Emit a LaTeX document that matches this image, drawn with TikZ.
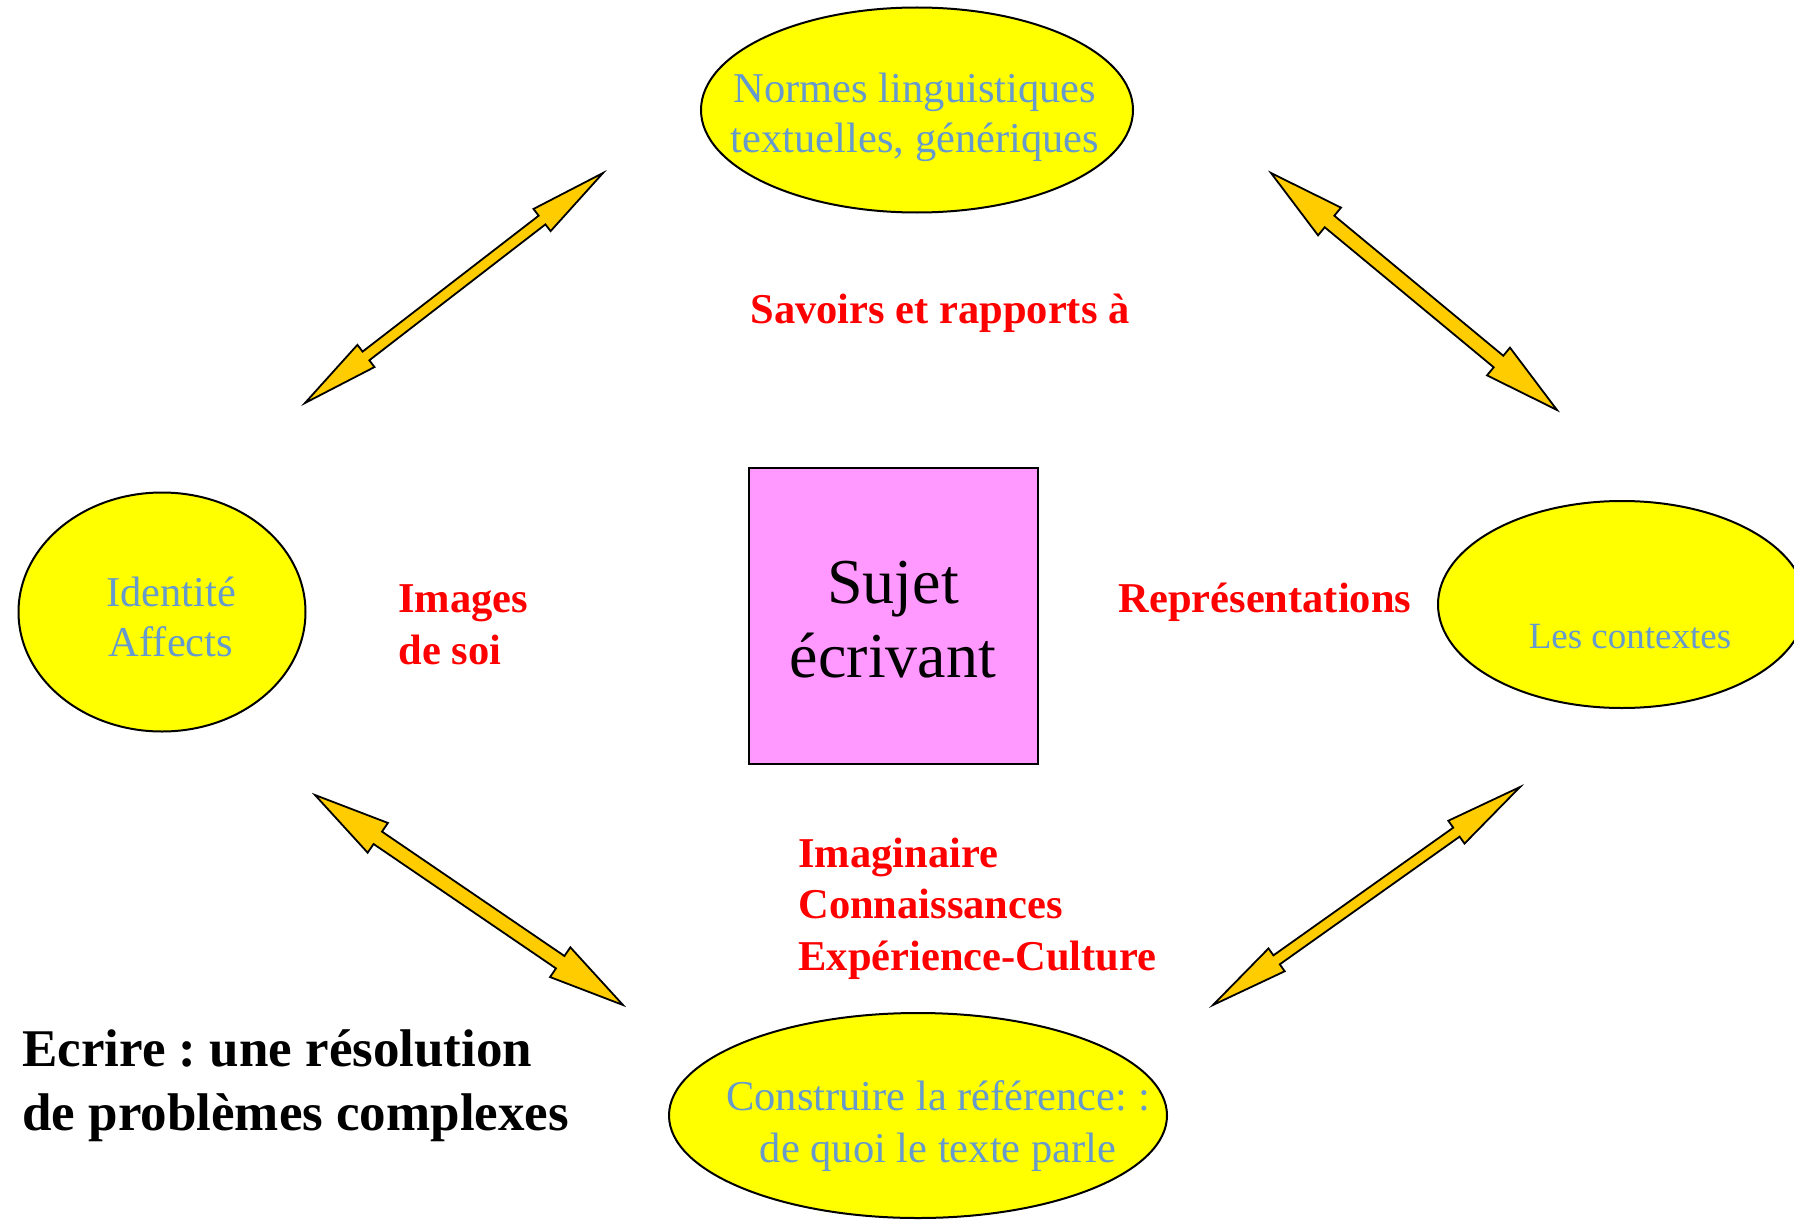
\documentclass[tikz,border=0pt]{standalone}
\usepackage{fontspec}
\setmainfont{Liberation Serif}
\usepackage{tikz}
\usetikzlibrary{shapes.geometric, calc}
\definecolor{ovalyellow}{RGB}{255,255,0}
\definecolor{boxpink}{RGB}{255,153,255}
\definecolor{labelblue}{RGB}{102,153,204}
\definecolor{arrowgold}{RGB}{255,204,0}
\frenchspacing

\tikzset{
  oval/.style={ellipse, draw=black, line width=1pt, fill=ovalyellow, inner sep=0pt},
  ovaltext/.style={text=labelblue, align=center, anchor=base, inner sep=0pt,
    font=\fontsize{21.25pt}{25pt}\selectfont},
  keyword/.style={text=red, inner sep=0pt, font=\bfseries\fontsize{21.25pt}{25.75pt}\selectfont},
  arrowbody/.style={draw=black, line width=0.9pt, fill=arrowgold, line join=miter},
}

% #1 from, #2 to, #3 head length, #4 head half width, #5 shaft half width
\newcommand{\dblarrow}[5]{%
  \draw[arrowbody] (#1)
    -- ($(#1)!#3!(#2)!#4!90:(#2)$)
    -- ($(#1)!#3!(#2)!#5!90:(#2)$)
    -- ($(#2)!#3!(#1)!#5!-90:(#1)$)
    -- ($(#2)!#3!(#1)!#4!-90:(#1)$)
    -- (#2)
    -- ($(#2)!#3!(#1)!#4!90:(#1)$)
    -- ($(#2)!#3!(#1)!#5!90:(#1)$)
    -- ($(#1)!#3!(#2)!#5!-90:(#2)$)
    -- ($(#1)!#3!(#2)!#4!-90:(#2)$)
    -- cycle;}

\begin{document}
\begin{tikzpicture}[x=0.5pt, y=-0.5pt]
  \fill[white] (0,0) rectangle (1794,1220);
  \useasboundingbox (0,0) rectangle (1794,1220);

  \node[oval, minimum width=216pt, minimum height=102.5pt] (normes) at (917,110) {};
  \node[oval, minimum width=143.5pt, minimum height=119.5pt] (identite) at (162,612) {};
  \node[oval, minimum width=184pt, minimum height=103.5pt] (contextes) at (1622,604.5) {};
  \node[oval, minimum width=249pt, minimum height=102.5pt] (construire) at (918,1115.5) {};
  \node[draw=black, line width=1pt, fill=boxpink, minimum width=144.5pt, minimum height=148pt,
    inner sep=0pt] (sujet) at (893.5,616) {};

  \node[ovaltext] (normes-txt) at (915,153) {Normes linguistiques\\textuelles, génériques};
  \node[ovaltext] (identite-txt) at (171,656) {Identité\\Affects};
  \node[ovaltext, font=\fontsize{18.5pt}{22pt}\selectfont] (contextes-txt) at (1630,648) {Les contextes};
  \node[ovaltext, font=\fontsize{21.25pt}{26pt}\selectfont] (construire-txt) at (938,1162)
    {Construire la référence: :\\de quoi le texte parle};
  \node[anchor=base, align=center, inner sep=0pt, font=\fontsize{32pt}{37pt}\selectfont]
    (sujet-txt) at (893,677) {Sujet\\écrivant};

  \node[keyword, anchor=base] (savoirs) at (940,323) {Savoirs et rapports à};
  \node[keyword, anchor=base west, align=left] (images) at (398,664) {Images\\de soi};
  \node[keyword, anchor=base] (repres) at (1265,612) {Représentations};
  \node[keyword, anchor=base west, align=left] (imaginaire) at (798,970)
    {Imaginaire\\Connaissances\\Expérience-Culture};

  \node[anchor=base west, align=left, inner sep=0pt, font=\bfseries\fontsize{26.5pt}{32pt}\selectfont]
    (ecrire) at (22,1130) {Ecrire : une résolution\\de problèmes complexes};

  \coordinate (nwA) at (603,173);
  \coordinate (nwB) at (305,403);
  \coordinate (neA) at (1271,173);
  \coordinate (neB) at (1557,410);
  \coordinate (swA) at (315,795);
  \coordinate (swB) at (623,1005);
  \coordinate (seA) at (1520,787);
  \coordinate (seB) at (1213,1005);

  \dblarrow{nwA}{nwB}{38.5pt}{7pt}{2.75pt}
  \dblarrow{neA}{neB}{38pt}{9pt}{3.75pt}
  \dblarrow{swA}{swB}{38pt}{9pt}{3.75pt}
  \dblarrow{seA}{seB}{39pt}{7pt}{2.75pt}
\end{tikzpicture}
\end{document}
